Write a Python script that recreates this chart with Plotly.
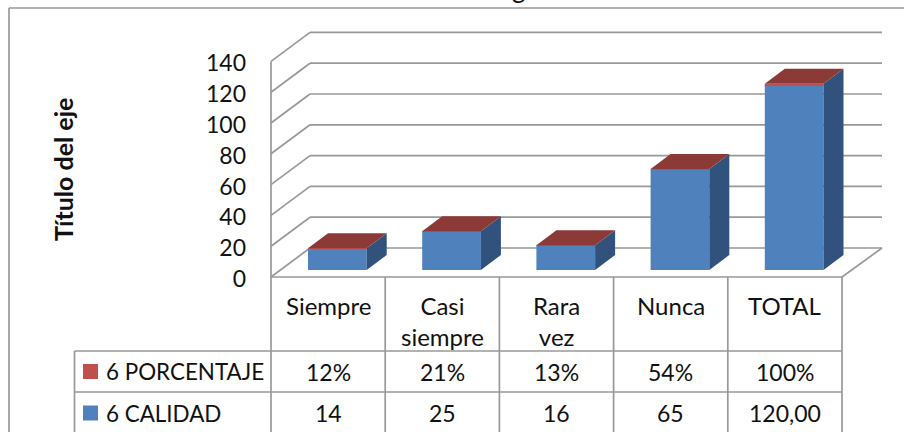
import plotly.graph_objects as go

categories = ["Siempre", "Casi<br>siempre", "Rara<br>vez", "Nunca", "TOTAL"]
calidad = [14, 25, 16, 65, 120]
porcentaje = [0.12, 0.21, 0.13, 0.54, 1.0]
calidad_labels = ["14", "25", "16", "65", "120,00"]
porcentaje_labels = ["12%", "21%", "13%", "54%", "100%"]
series_names = ["6 PORCENTAJE", "6 CALIDAD"]
y_ticks = [0, 20, 40, 60, 80, 100, 120, 140]

BLUE = "#4F81BD"
BLUE_SIDE = "#31527C"
RED = "#C0504D"
RED_TOP = "#8C3A38"
LINE = "#999999"
FONT = "Lato"
TEXT = "#111111"

W, H = 904, 432
# pixel anchors of the plot, everything below is in axis units
X0_PX, CAT_PX = 271.0, 114.2
Y0_PX, VAL_PX = 277.0, 1.54


def px_x(px):
    return (px - X0_PX) / CAT_PX


def px_y(py):
    return (Y0_PX - py) / VAL_PX


# 3D offsets
WALL_DX, WALL_DY = px_x(310), px_y(248)
BAR_DX, BAR_DY = 20 / CAT_PX, 15 / VAL_PX
BAR_BASE = px_y(270)
BAR_W = 0.514
BAR_SHIFT = 0.081
N = len(categories)
RIGHT = px_x(882)

fig = go.Figure()
shapes = []


def line(x0, y0, x1, y1, layer="below"):
    shapes.append(dict(type="line", xref="x", yref="y", x0=x0, y0=y0, x1=x1, y1=y1,
                       layer=layer, line=dict(color=LINE, width=1.7)))


# walls and gridlines
for v in y_ticks:
    line(0, v, WALL_DX, v + WALL_DY)
    line(WALL_DX, v + WALL_DY, RIGHT, v + WALL_DY)
line(0, 0, 0, y_ticks[-1])
line(N, 0, RIGHT, WALL_DY)

# table grid
row_top, row_mid, row_bot = px_y(351), px_y(392), px_y(433)
line(0, 0, N, 0)
for i in range(N + 1):
    line(i, 0, i, row_bot)
line(px_x(74.5), row_top, N, row_top)
line(px_x(74.5), row_mid, N, row_mid)
line(px_x(74.5), row_top, px_x(74.5), row_bot)

# chart frame, runs off the page on the right and bottom
line(px_x(9), px_y(8), px_x(904), px_y(8))
line(px_x(9), px_y(8), px_x(9), px_y(432))

xs = [i + 0.5 + BAR_SHIFT for i in range(N)]

fig.add_trace(go.Bar(x=xs, y=calidad, base=[BAR_BASE] * N, width=BAR_W,
                     marker=dict(color=BLUE, line=dict(width=0)), name=series_names[1]))
fig.add_trace(go.Bar(x=xs, y=porcentaje, base=[BAR_BASE + c for c in calidad], width=BAR_W,
                     marker=dict(color=RED, line=dict(width=0)), name=series_names[0]))

# side and top faces of each bar
for x, c, p in zip(xs, calidad, porcentaje):
    left, right = x - BAR_W / 2, x + BAR_W / 2
    top = BAR_BASE + c + p
    fig.add_trace(go.Scatter(
        x=[right, right + BAR_DX, right + BAR_DX, right, right],
        y=[BAR_BASE, BAR_BASE + BAR_DY, top + BAR_DY, top, BAR_BASE],
        mode="lines", fill="toself", fillcolor=BLUE_SIDE, line=dict(width=0), showlegend=False))
    fig.add_trace(go.Scatter(
        x=[left, right, right + BAR_DX, left + BAR_DX, left],
        y=[top, top, top + BAR_DY, top + BAR_DY, top],
        mode="lines", fill="toself", fillcolor=RED_TOP, line=dict(width=0), showlegend=False))

annotations = []


def label(x, y, text, size=23, **kw):
    annotations.append(dict(x=x, y=y, xref="x", yref="y", text=text, showarrow=False,
                            font=dict(family=FONT, size=size, color=TEXT), **kw))


for i in range(N):
    label(i + 0.5, px_y(289), categories[i], size=24, yanchor="top", align="center")
    label(i + 0.5, (row_top + row_mid) / 2, porcentaje_labels[i], yanchor="middle")
    label(i + 0.5, px_y(413), calidad_labels[i], yanchor="middle")

legend_ys = [(row_top + row_mid) / 2, px_y(413)]
for name, color, y in zip(series_names, [RED, BLUE], legend_ys):
    fig.add_trace(go.Scatter(x=[px_x(90.5)], y=[y], mode="markers", showlegend=False,
                             marker=dict(symbol="square", size=15, color=color, line=dict(width=0))))
    label(px_x(104), y, name, size=22.4, xanchor="left", yanchor="middle")

label(px_x(63), px_y(170), "<b>Título del eje</b>", size=25, textangle=-90)
# only the tail of the chart title shows at the top edge, paper ref so it is not dropped off scale
annotations.append(dict(x=px_x(519), y=1 + 12 / H, xref="x", yref="paper", text="g", showarrow=False,
                        yanchor="middle", font=dict(family=FONT, size=26, color=TEXT)))

fig.update_layout(
    width=W, height=H,
    margin=dict(l=0, r=0, t=0, b=0),
    autosize=False,
    paper_bgcolor="white", plot_bgcolor="white",
    showlegend=False,
    barmode="overlay",
    shapes=shapes,
    annotations=annotations,
    xaxis=dict(range=[px_x(0), px_x(W)], visible=False, fixedrange=True),
    yaxis=dict(range=[px_y(H), px_y(0)], anchor="free", position=X0_PX / W, side="left",
               tickmode="array", tickvals=y_ticks, showgrid=False, zeroline=False,
               showline=False, ticks="", ticklabelstandoff=25, ticklabelshift=2, fixedrange=True,
               tickfont=dict(family=FONT, size=23, color=TEXT)),
)

# the page body has a default margin that would push the chart off its place
fig.write_html("out.html", config=dict(displayModeBar=False),
               post_script="document.body.style.margin='0';document.body.style.overflow='hidden';")
